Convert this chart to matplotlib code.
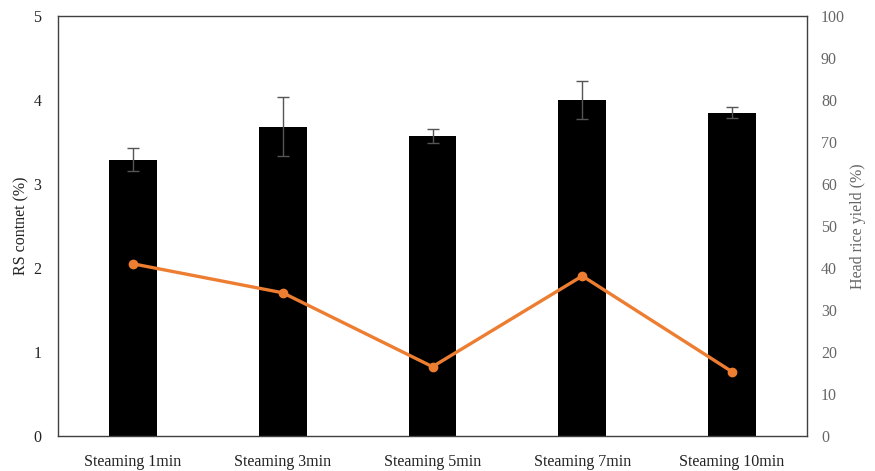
import matplotlib
matplotlib.use("Agg")
import matplotlib.pyplot as plt
import numpy as np

categories = ["Steaming 1min", "Steaming 3min", "Steaming 5min", "Steaming 7min", "Steaming 10min"]
rs_content = [3.29, 3.68, 3.57, 4.00, 3.85]
rs_error = [0.14, 0.35, 0.08, 0.23, 0.07]
head_rice_yield = [41.0, 34.1, 16.5, 38.1, 15.3]

plt.rcParams["font.family"] = ["Liberation Serif", "DejaVu Serif"]

fig = plt.figure(figsize=(8.75, 4.71), dpi=100)
ax = fig.add_axes([0.0663, 0.0743, 0.8560, 0.8917])
x = np.arange(len(categories))

ax.bar(x, rs_content, width=0.32, color="black", zorder=2)
ax.errorbar(x, rs_content, yerr=rs_error, fmt="none", ecolor="#555555",
            elinewidth=1.0, capsize=4, capthick=1.0, zorder=3)
ax.set_xlim(-0.5, len(categories) - 0.5)
ax.set_ylim(0, 5)
ax.set_yticks(range(0, 6))
ax.set_xticks(x)
ax.set_xticklabels(categories, fontsize=11.5)
ax.tick_params(axis="both", length=0, labelsize=11.5, colors="#222222")
ax.tick_params(axis="x", pad=13)
ax.tick_params(axis="y", pad=12)
ax.set_ylabel("RS contnet (%)", fontsize=11.5, color="#222222", labelpad=3)
for s in ax.spines.values():
    s.set_color("#404040")
    s.set_linewidth(1.0)

ax2 = ax.twinx()
ax2.plot(x, head_rice_yield, color="#ED7D31", linewidth=2.4, marker="o",
         markersize=6, zorder=4)
ax2.set_ylim(0, 100)
ax2.set_yticks(range(0, 101, 10))
ax2.tick_params(axis="y", length=0, labelsize=11.5, colors="#666666", pad=10)
ax2.set_ylabel("Head rice yield (%)", fontsize=11.5, color="#666666", labelpad=4)
for s in ax2.spines.values():
    s.set_visible(False)

fig.savefig("out.png", dpi=100)
